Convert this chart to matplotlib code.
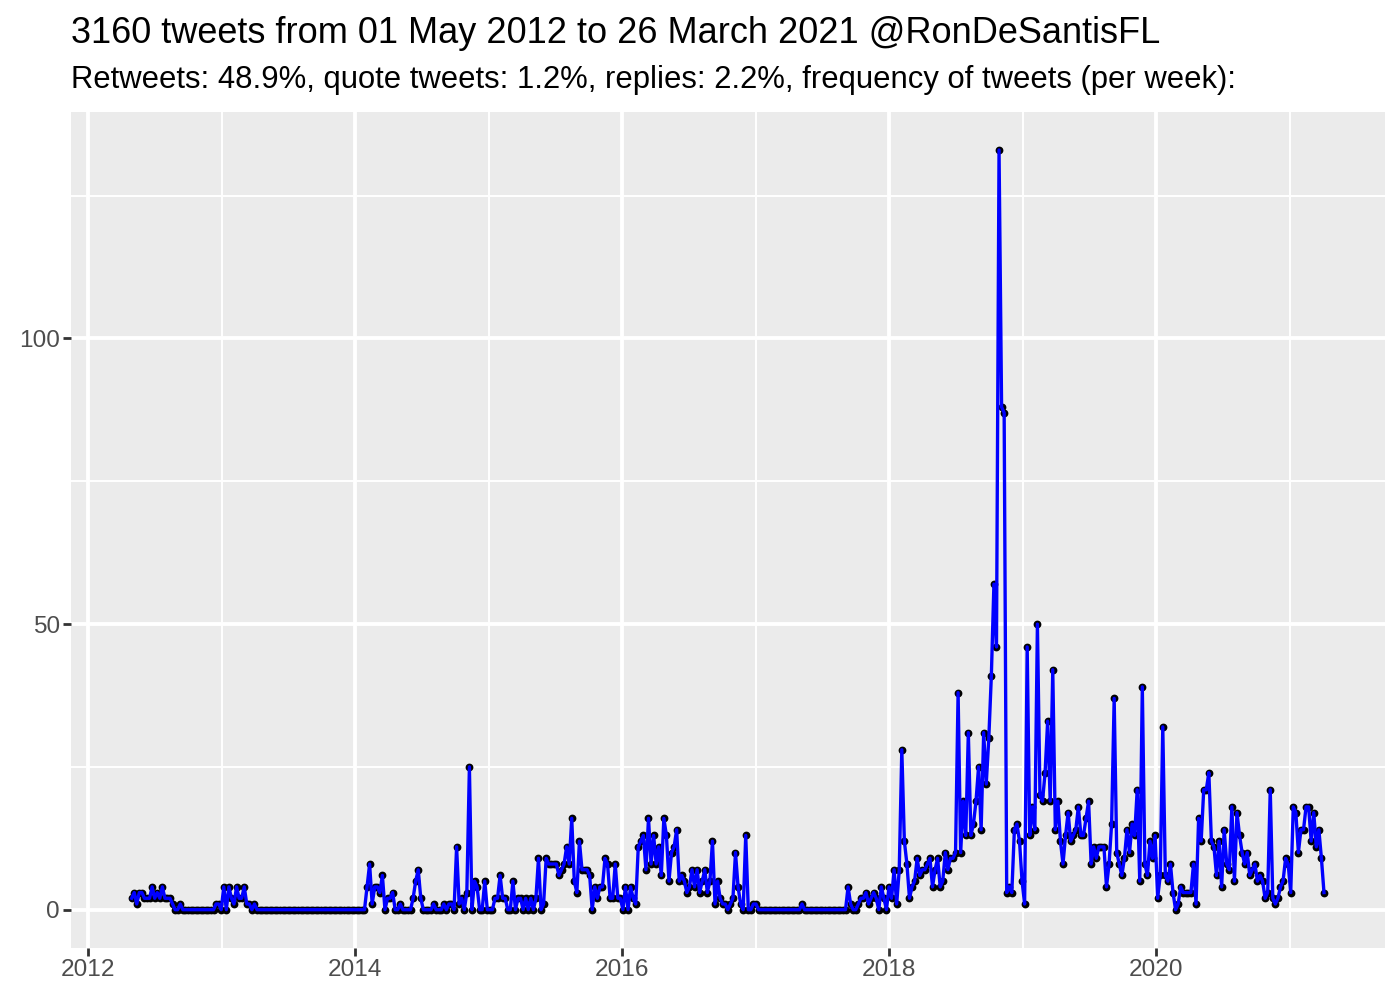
import pandas as pd
import matplotlib
matplotlib.use("Agg")
import matplotlib.pyplot as plt
import matplotlib.dates as mdates

# weekly tweet counts (weeks starting 2012-04-29)
counts_2012 = [2, 3, 1, 3, 3, 2, 2, 2, 4, 2, 3, 2, 4, 2, 2, 2, 1, 0, 0, 1,
               0, 0, 0, 0, 0, 0, 0, 0, 0, 0, 0, 0, 0, 1, 1, 0]
counts_2013 = [4, 0, 4, 2, 1, 4, 2, 2, 4, 1, 1, 0, 1, 0, 0, 0, 0, 0, 0, 0,
               0, 0, 0, 0, 0, 0, 0, 0, 0, 0, 0, 0, 0, 0, 0, 0, 0, 0, 0, 0,
               0, 0, 0, 0, 0, 0, 0, 0, 0, 0, 0, 0]
counts_2014 = [0, 0, 0, 0, 4, 8, 1, 4, 4, 3, 6, 0, 2, 2, 3, 0, 0, 1, 0, 0,
               0, 0, 2, 5, 7, 2, 0, 0, 0, 0, 1, 0, 0, 0, 1, 0, 1, 1, 0, 11,
               1, 2, 0, 3, 25, 0, 5, 4, 0, 0, 5, 0]
counts_2015 = [0, 0, 2, 2, 6, 2, 2, 0, 0, 5, 0, 2, 2, 0, 2, 0, 2, 0, 2, 9,
               0, 1, 9, 8, 8, 8, 8, 6, 7, 8, 11, 8, 16, 5, 3, 12, 7, 7, 7, 6,
               0, 4, 2, 4, 4, 9, 8, 2, 2, 8, 2, 2]
counts_2016 = [0, 4, 0, 4, 2, 1, 11, 12, 13, 7, 16, 8, 13, 8, 11, 6, 16, 13, 5, 10,
               11, 14, 5, 6, 5, 3, 4, 7, 4, 7, 3, 5, 7, 3, 5, 12, 1, 5, 2, 1,
               1, 0, 1, 2, 10, 4, 1, 0, 13, 0, 0, 1]
counts_2017 = [1, 0, 0, 0, 0, 0, 0, 0, 0, 0, 0, 0, 0, 0, 0, 0, 0, 0, 1, 0,
               0, 0, 0, 0, 0, 0, 0, 0, 0, 0, 0, 0, 0, 0, 0, 0, 4, 1, 0, 0,
               1, 2, 2, 3, 1, 2, 3, 2, 0, 4, 2, 0, 4]
counts_2018 = [2, 7, 1, 7, 28, 12, 8, 2, 4, 5, 9, 6, 7, 7, 8, 9, 4, 7, 9, 4,
               5, 10, 7, 9, 9, 10, 38, 10, 19, 13, 31, 13, 15, 19, 25, 14, 31, 22, 30, 41,
               57, 46, 133, 88, 87, 3, 4, 3, 14, 15, 12, 5]
counts_2019 = [1, 46, 13, 18, 14, 50, 20, 19, 24, 33, 19, 42, 14, 19, 12, 8, 13, 17, 12, 13,
               14, 18, 13, 13, 16, 19, 8, 11, 9, 11, 11, 11, 4, 8, 15, 37, 10, 8, 6, 9,
               14, 10, 15, 13, 21, 5, 39, 8, 6, 12, 9, 13]
counts_2020 = [2, 6, 32, 6, 5, 8, 3, 0, 1, 4, 3, 3, 3, 3, 8, 1, 16, 12, 21, 21,
               24, 12, 11, 6, 12, 4, 14, 8, 7, 18, 5, 17, 13, 10, 8, 10, 6, 7, 8, 5,
               6, 5, 2, 3, 21, 2, 1, 2, 4, 5, 9, 8]
counts_2021 = [3, 18, 17, 10, 14, 14, 18, 18, 12, 17, 11, 14, 9, 3]

counts = (counts_2012 + counts_2013 + counts_2014 + counts_2015 + counts_2016
          + counts_2017 + counts_2018 + counts_2019 + counts_2020 + counts_2021)
weeks = pd.date_range("2012-04-29", periods=len(counts), freq="7D")

title = "3160 tweets from 01 May 2012 to 26 March 2021 @RonDeSantisFL"
subtitle = ("Retweets: 48.9%, quote tweets: 1.2%, replies: 2.2%, "
            "frequency of tweets (per week):")

plt.rcParams["font.family"] = ["Liberation Sans", "DejaVu Sans"]

fig = plt.figure(figsize=(14, 10), dpi=100)
ax = fig.add_axes([0.0507, 0.0523, 0.9386, 0.8357])
ax.set_facecolor("#EBEBEB")

# points under the line, like geom_point + geom_line
ax.plot(weeks, counts, linestyle="none", marker="o", markersize=4.6,
        color="black", zorder=3)
ax.plot(weeks, counts, color="#0000FF", linewidth=2.4, zorder=4)

ax.set_xlim(pd.Timestamp("2011-11-15"), pd.Timestamp("2021-09-18"))
ax.set_ylim(-6.65, 139.65)

ax.xaxis.set_major_locator(mdates.YearLocator(2))
ax.xaxis.set_major_formatter(mdates.DateFormatter("%Y"))
minor_years = [pd.Timestamp(f"{y}-01-01") for y in range(2013, 2022, 2)]
ax.set_xticks(minor_years, minor=True)
ax.set_yticks([0, 50, 100])
ax.set_yticks([25, 75, 125], minor=True)

ax.grid(which="major", color="white", linewidth=2.8)
ax.grid(which="minor", color="white", linewidth=1.4)
ax.set_axisbelow(True)

for s in ax.spines.values():
    s.set_visible(False)
ax.tick_params(which="major", length=5.5, width=2.0, color="#333333",
               labelcolor="#4D4D4D", labelsize=17.6, pad=2.5)
ax.tick_params(which="minor", length=0)

fig.text(0.051, 0.957, title, fontsize=26, color="black", va="baseline")
fig.text(0.051, 0.912, subtitle, fontsize=22.3, color="black", va="baseline")

fig.savefig("out.png", dpi=100)
